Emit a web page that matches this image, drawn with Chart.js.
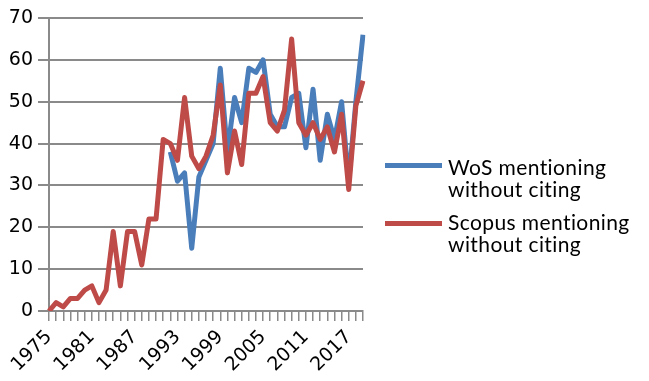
<!DOCTYPE html>
<html>
<head>
<meta charset="utf-8">
<script src="https://cdn.jsdelivr.net/npm/chart.js@4/dist/chart.umd.min.js"></script>
<style>
  html, body { margin: 0; padding: 0; background: #fff; }
  #wrap { position: relative; width: 649px; height: 381px; }
  .key { position: absolute; left: 385px; width: 57px; height: 5px; }
  .txt { position: absolute; left: 448px; font-family: Lato, sans-serif; font-size: 21px; line-height: 22px; letter-spacing: 0.4px; color: #000; white-space: nowrap; }
</style>
</head>
<body>
<div id="wrap">
  <canvas id="myChart" width="649" height="381"></canvas>
  <div class="key" style="top:163px;background:#4a7ebb"></div>
  <div class="txt" style="top:156px">WoS mentioning<br>without citing</div>
  <div class="key" style="top:221px;background:#be4b48"></div>
  <div class="txt" style="top:211px">Scopus mentioning<br>without citing</div>
</div>
<script>
var years = [];
for (var y = 1975; y <= 2019; y++) years.push(String(y));

// WoS starts in 1992
var wos = [null, null, null, null, null, null, null, null, null, null, null, null, null, null, null, null, null,
    38, 31, 33, 15, 32, 36, 40, 58, 38, 51, 45, 58, 57, 60, 47, 44, 44, 51, 52, 39, 53, 36, 47, 41, 50, 31, 50, 66];
var scopus = [0, 2, 1, 3, 3, 5, 6, 2, 5, 19, 6, 19, 19, 11, 22, 22,
    41, 40, 36, 51, 37, 34, 37, 42, 54, 33, 43, 35, 52, 52, 56, 45, 43, 48, 65, 45, 42, 45, 41, 44, 38, 47, 29, 49, 55];

var gridColor = '#8a8a8a';
var tickFont = {family: 'DejaVu Sans', size: 19};

var ctx = document.getElementById("myChart");
var myChart = new Chart(ctx, {
    type: 'line',
    data: {
        labels: years,
        datasets: [{
            label: 'WoS mentioning without citing',
            data: wos,
            borderColor: '#4a7ebb',
            borderWidth: 5,
            borderJoinStyle: 'round',
            pointRadius: 0,
            order: 1
        },
            {
                label: 'Scopus mentioning without citing',
                data: scopus,
                borderColor: '#be4b48',
                borderWidth: 5,
                borderJoinStyle: 'round',
                pointRadius: 0,
                order: 0
            }]
    },
    options: {
        responsive: false,
        animation: false,
        events: [],
        layout: {
            padding: {left: 0, right: 286, top: 18, bottom: 0}
        },
        plugins: {
            legend: {display: false},
            tooltip: {enabled: false}
        },
        scales: {
            x: {
                offset: false,
                afterFit: function (s) { s.height = 70; },
                grid: {drawOnChartArea: false, drawTicks: true, tickLength: 10, color: gridColor, lineWidth: 1.5},
                border: {color: gridColor, width: 2},
                ticks: {
                    autoSkip: false,
                    minRotation: 45,
                    maxRotation: 45,
                    padding: 5,
                    color: '#000',
                    font: tickFont,
                    callback: function (v, i) { return i % 6 === 0 ? years[i] : ''; }
                }
            },
            y: {
                min: 0,
                max: 70,
                afterFit: function (s) { s.width = 49; },
                grid: {color: gridColor, lineWidth: 2, tickLength: 11},
                border: {color: gridColor, width: 2},
                ticks: {stepSize: 10, padding: 5, color: '#000', font: tickFont}
            }
        }
    }
});
</script>
</body>
</html>
